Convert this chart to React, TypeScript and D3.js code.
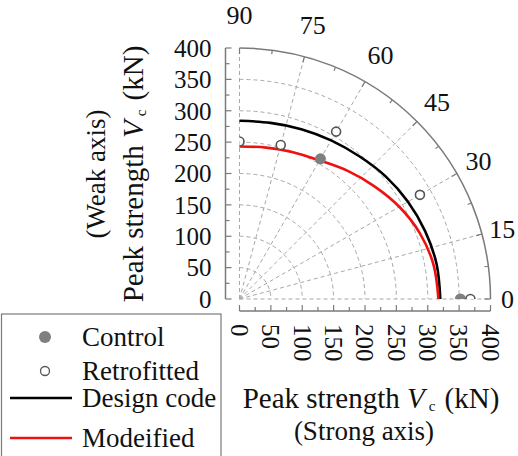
import React from 'react';
import * as d3 from 'd3';

// Polar interaction chart of peak shear strength (strong axis vs weak axis)
const angleLabels = [0, 15, 30, 45, 60, 75, 90];
const strengthTicks = [0, 50, 100, 150, 200, 250, 300, 350, 400];
const minorTicks = [0, 25, 50, 75, 100, 125, 150, 175, 200, 225, 250, 275, 300, 325, 350, 375, 400];
const gridRadii = [50, 100, 150, 200, 250, 300, 350];
const arcTickAngles = [0, 7.5, 15, 22.5, 30, 37.5, 45, 52.5, 60, 67.5, 75, 82.5, 90];

// Interaction curves sampled by angle (deg) -> strength (kN)
const curveAngles = [0, 10, 20, 30, 40, 50, 60, 70, 80, 90];
const designCode = [320, 319, 315, 310, 304, 297, 292, 288, 285, 284];
const modified = [317, 314, 306, 294, 280, 267, 255, 249, 245, 243];

// Test specimens
const controlAngles = [60, 0];
const controlValues = [258, 352];
const retrofitAngles = [90, 75, 60, 30, 0];
const retrofitValues = [251, 254, 308, 332, 368];

const legendLabels = ['Control', 'Retrofitted', 'Design code', 'Modeified'];
const legendBaselines = [346, 380, 407, 447];

const FONT = 'Liberation Serif';
const W = 518;
const H = 456;
const cx = 239.5;
const cy = 299;
const R = 251;

function StrengthTitle(props: { x: number; y: number; transform?: string }) {
  return (
    <text x={props.x} y={props.y} transform={props.transform} textAnchor="middle" fontSize={29}>
      <tspan>Peak strength </tspan>
      <tspan fontStyle="italic">V</tspan>
      <tspan fontSize={15} dy={3} dx={4}>c</tspan>
      <tspan dy={-3} dx={2}> (kN)</tspan>
    </text>
  );
}

export default function App() {
  const r = d3.scaleLinear().domain([0, 400]).range([0, R]);
  const rad = (deg: number) => (deg * Math.PI) / 180;
  const pt = (deg: number, v: number): [number, number] => [
    cx + r(v) * Math.cos(rad(deg)),
    cy - r(v) * Math.sin(rad(deg)),
  ];

  const quarter = (v: number) => {
    const p = d3.path();
    p.moveTo(cx, cy - r(v));
    p.arc(cx, cy, r(v), -Math.PI / 2, 0, false);
    return p.toString();
  };

  const line = d3.line<[number, number]>().curve(d3.curveCatmullRom.alpha(0.5));
  const designPath = line(curveAngles.map((a, i) => pt(a, designCode[i]))) || '';
  const modifiedPath = line(curveAngles.map((a, i) => pt(a, modified[i]))) || '';

  const axisColor = '#7a7a7a';
  const gridColor = '#a8a8a8';
  const leftX = 225.5;
  const bottomY = 311;

  return (
    <svg width={W} height={H} style={{ position: 'absolute', left: 0, top: 0, background: '#fff' }}>
      <defs>
        <clipPath id="quadrant">
          <rect x={cx} y={cy - R - 10} width={R + 20} height={R + 10} />
        </clipPath>
      </defs>
      <rect x={0} y={0} width={W} height={H} fill="#fff" />

      {/* dashed grid circles */}
      {gridRadii.map((v) => (
        <path key={'g' + v} d={quarter(v)} fill="none" stroke={gridColor} strokeWidth={1} strokeDasharray="4,3" />
      ))}
      {/* dashed spokes */}
      {angleLabels.map((a) => {
        const [x2, y2] = pt(a, 400);
        return (
          <line key={'s' + a} x1={cx} y1={cy} x2={x2} y2={y2} stroke={gridColor} strokeWidth={1} strokeDasharray="4,3" />
        );
      })}
      {/* outer arc with ticks */}
      <path d={quarter(400)} fill="none" stroke={axisColor} strokeWidth={1.5} />
      {arcTickAngles.map((a) => {
        const len = a % 15 === 0 ? 6 : 4;
        const [x1, y1] = pt(a, 400);
        const x2 = cx + (R - len) * Math.cos(rad(a));
        const y2 = cy - (R - len) * Math.sin(rad(a));
        return <line key={'at' + a} x1={x1} y1={y1} x2={x2} y2={y2} stroke={axisColor} strokeWidth={1.2} />;
      })}

      {/* curves */}
      <path d={designPath} fill="none" stroke="#000" strokeWidth={2.6} />
      <path d={modifiedPath} fill="none" stroke="#ee1111" strokeWidth={2.6} />

      {/* specimens */}
      <g clipPath="url(#quadrant)">
        {controlAngles.map((a, i) => {
          const [x, y] = pt(a, controlValues[i]);
          return <circle key={'c' + i} cx={x} cy={y} r={5.5} fill="#7f7f7f" />;
        })}
        {retrofitAngles.map((a, i) => {
          const [x, y] = pt(a, retrofitValues[i]);
          return <circle key={'rf' + i} cx={x} cy={y} r={4.5} fill="#fff" stroke="#555" strokeWidth={1.6} />;
        })}
      </g>

      <g fontFamily={FONT} fill="#111">
        {/* angle labels */}
        {angleLabels.map((a) => {
          const rc = 268 + 16 * Math.sin(rad(a));
          const x = cx + rc * Math.cos(rad(a));
          const y = cy - rc * Math.sin(rad(a));
          return (
            <text key={'al' + a} x={x} y={y} dy="0.35em" textAnchor="middle" fontSize={26}>
              {a}
            </text>
          );
        })}

        {strengthTicks.map((v) => (
          <text key={'ly' + v} x={211.5} y={cy - r(v)} dy="0.35em" textAnchor="end" fontSize={25}>
            {v}
          </text>
        ))}

        {strengthTicks.map((v) => {
          const x = cx + r(v);
          const y = 324;
          return (
            <text
              key={'bx' + v}
              x={x}
              y={y}
              dy="0.35em"
              textAnchor="start"
              fontSize={25}
              transform={`rotate(90, ${x}, ${y})`}
            >
              {v}
            </text>
          );
        })}

        {/* axis titles */}
        <StrengthTitle x={0} y={0} transform="translate(143,174) rotate(-90)" />
        <text x={0} y={0} transform="translate(105,174) rotate(-90)" textAnchor="middle" fontSize={27}>
          (Weak axis)
        </text>
        <StrengthTitle x={371} y={408} />
        <text x={364} y={440} textAnchor="middle" fontSize={27}>(Strong axis)</text>
      </g>

      {/* left (weak) axis */}
      <line x1={leftX} y1={cy - R} x2={leftX} y2={cy} stroke={axisColor} strokeWidth={1.5} />
      {minorTicks.map((v) => (
        <line
          key={'lt' + v}
          x1={leftX}
          x2={leftX + (v % 50 === 0 ? 6 : 4)}
          y1={cy - r(v)}
          y2={cy - r(v)}
          stroke={axisColor}
          strokeWidth={1.2}
        />
      ))}

      {/* bottom (strong) axis */}
      <line x1={cx} y1={bottomY} x2={cx + R} y2={bottomY} stroke={axisColor} strokeWidth={1.5} />
      {minorTicks.map((v) => (
        <line
          key={'bt' + v}
          x1={cx + r(v)}
          x2={cx + r(v)}
          y1={bottomY}
          y2={bottomY - (v % 50 === 0 ? 6 : 4)}
          stroke={axisColor}
          strokeWidth={1.2}
        />
      ))}

      {/* legend */}
      <rect x={1.5} y={314} width={219.5} height={160} fill="#fff" stroke={axisColor} strokeWidth={1.2} />
      <circle cx={45} cy={337} r={6} fill="#7f7f7f" />
      <circle cx={45} cy={371} r={4.5} fill="#fff" stroke="#555" strokeWidth={1.3} />
      <line x1={10} x2={72} y1={398} y2={398} stroke="#000" strokeWidth={2.5} />
      <line x1={10} x2={72} y1={438} y2={438} stroke="#ee1111" strokeWidth={2.5} />
      <g fontFamily={FONT} fill="#111">
        {legendLabels.map((t, i) => (
          <text key={'lg' + i} x={82} y={legendBaselines[i]} fontSize={27}>
            {t}
          </text>
        ))}
      </g>
    </svg>
  );
}
